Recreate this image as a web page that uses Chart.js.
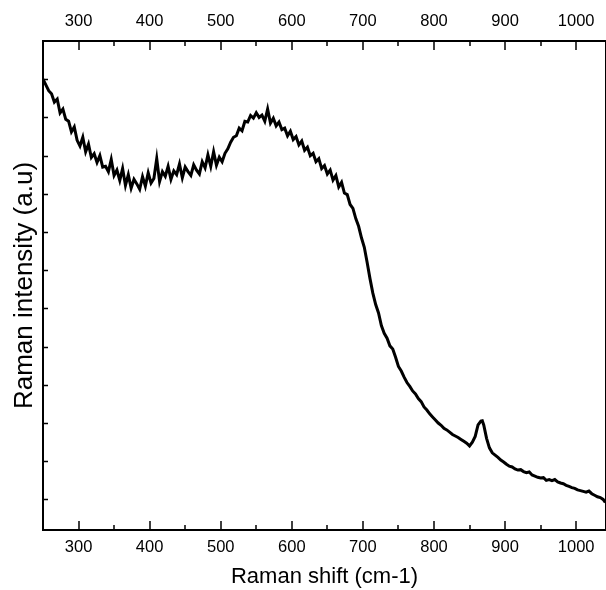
<!DOCTYPE html>
<html>
<head>
<meta charset="utf-8">
<script src="https://cdn.jsdelivr.net/npm/chart.js@4"></script>
<style>
  html, body { margin: 0; padding: 0; background: #fff; }
  #wrap { width: 606px; height: 590px; }
</style>
</head>
<body>
<div id="wrap"><canvas id="c" width="606" height="590"></canvas></div>
<script>
const ramanShift = [
  250,254,258,262,266,270,274,278,282,286,
  290,294,298,302,306,310,314,318,322,326,
  330,334,338,342,346,350,354,358,362,366,
  370,374,378,382,386,390,394,398,402,406,
  410,414,418,422,426,430,434,438,442,446,
  450,454,458,462,466,470,474,478,482,486,
  490,494,498,502,506,510,514,518,522,526,
  530,534,538,542,546,550,554,558,562,566,
  570,574,578,582,586,590,594,598,602,606,
  610,614,618,622,626,630,634,638,642,646,
  650,654,658,662,666,670,674,678,682,686,
  690,694,698,702,706,710,714,718,722,726,
  730,734,738,742,746,750,754,758,762,766,
  770,774,778,782,786,790,794,798,802,806,
  810,814,818,822,826,830,834,838,842,846,
  850,854,858,862,866,868,870,874,878,882,
  886,890,894,898,902,906,910,914,918,922,
  926,930,934,938,942,946,950,954,958,962,
  966,970,974,978,982,986,990,994,998,1002,
  1006,1010,1014,1018,1022,1026,1030,1034,1038,1041
];
const intensity = [
  1100,1085,1070,1062,1040,1048,1012,1022,995,990,
  962,975,940,925,948,910,930,895,905,882,
  900,870,872,858,890,848,862,835,866,822,
  850,815,838,826,812,845,820,855,828,840,
  892,832,858,846,872,838,860,850,878,842,
  870,858,848,876,862,852,884,868,902,872,
  910,875,896,884,906,918,935,948,952,972,
  965,990,988,1005,998,1012,1000,1006,990,1022,
  985,998,978,988,968,972,952,964,942,950,
  928,938,914,922,900,906,884,892,866,874,
  852,862,836,848,818,830,802,798,772,762,
  735,715,685,660,620,578,540,510,488,455,
  435,422,402,394,372,348,336,320,306,296,
  284,276,264,256,242,234,224,216,208,200,
  194,186,182,176,170,166,162,157,152,147,
  140,150,165,195,205,206,195,160,135,122,
  116,110,103,98,92,87,85,80,77,78,
  73,70,72,64,61,58,56,57,50,52,
  49,52,46,43,41,37,34,31,29,25,
  23,21,19,22,15,11,7,5,0,-8
];
const xMajorTicks = [300,400,500,600,700,800,900,1000];
const xMinorTicks = [250,350,450,550,650,750,850,950];
const yTicks = [0,100,200,300,400,500,600,700,800,900,1000,1100];
const xTitle = 'Raman shift (cm-1)';
const yTitle = 'Raman intensity (a.u)';

const FONT = '"Liberation Sans", Arial, Helvetica, sans-serif';
const points = ramanShift.map((x, i) => ({ x: x, y: intensity[i] }));

const innerTicks = {
  id: 'innerTicks',
  afterDraw(chart) {
    const ctx = chart.ctx;
    const a = chart.chartArea;
    const sx = chart.scales.x, sy = chart.scales.y;
    ctx.save();
    ctx.strokeStyle = '#000';
    ctx.lineWidth = 1.5;
    ctx.beginPath();
    xMajorTicks.forEach(v => {
      const p = Math.round(sx.getPixelForValue(v));
      ctx.moveTo(p, a.bottom); ctx.lineTo(p, a.bottom - 9);
      ctx.moveTo(p, a.top); ctx.lineTo(p, a.top + 9);
    });
    xMinorTicks.forEach(v => {
      const p = Math.round(sx.getPixelForValue(v));
      ctx.moveTo(p, a.bottom); ctx.lineTo(p, a.bottom - 5);
      ctx.moveTo(p, a.top); ctx.lineTo(p, a.top + 5);
    });
    yTicks.forEach(v => {
      const p = Math.round(sy.getPixelForValue(v)) + 0.5;
      ctx.moveTo(a.left, p); ctx.lineTo(a.left + 5, p);
    });
    ctx.stroke();
    ctx.restore();
  }
};

const setXTicks = s => { s.ticks = xMajorTicks.map(v => ({ value: v })); };
const setYTicks = s => { s.ticks = yTicks.map(v => ({ value: v })); };
const plainLabel = v => String(v);

new Chart(document.getElementById('c'), {
  type: 'line',
  data: {
    datasets: [{
      data: points,
      borderColor: '#000',
      borderWidth: 3,
      pointRadius: 0,
      tension: 0,
      fill: false,
      xAxisID: 'x',
      yAxisID: 'y'
    }]
  },
  options: {
    responsive: false,
    animation: false,
    events: [],
    layout: { padding: 0 },
    plugins: { legend: { display: false }, tooltip: { enabled: false } },
    scales: {
      x: {
        type: 'linear', position: 'bottom', min: 250, max: 1042,
        afterBuildTicks: setXTicks,
        afterFit: s => { s.height = 60; },
        grid: { display: false, drawTicks: false },
        border: { display: true, color: '#000', width: 2 },
        ticks: { color: '#000', font: { family: FONT, size: 16.5 }, padding: 8, maxRotation: 0, autoSkip: false, callback: plainLabel },
        title: { display: true, text: xTitle, color: '#000', font: { family: FONT, size: 22 }, padding: { top: 0, bottom: 0 } }
      },
      x2: {
        type: 'linear', position: 'top', min: 250, max: 1042,
        afterBuildTicks: setXTicks,
        afterFit: s => { s.height = 41; },
        grid: { display: false, drawTicks: false },
        border: { display: true, color: '#000', width: 2 },
        ticks: { color: '#000', font: { family: FONT, size: 16.5 }, padding: 10, maxRotation: 0, autoSkip: false, callback: plainLabel }
      },
      y: {
        type: 'linear', position: 'left', min: -80, max: 1200,
        afterBuildTicks: setYTicks,
        afterFit: s => { s.width = 43; },
        grid: { display: false, drawTicks: false },
        border: { display: true, color: '#000', width: 2 },
        ticks: { display: false },
        title: { display: true, text: yTitle, color: '#000', font: { family: FONT, size: 26 }, padding: { top: 9, bottom: 0 } }
      },
      y2: {
        type: 'linear', position: 'right', min: -80, max: 1200,
        afterFit: s => { s.width = 0; },
        grid: { display: false, drawTicks: false },
        border: { display: true, color: '#000', width: 2 },
        ticks: { display: false }
      }
    }
  },
  plugins: [innerTicks]
});
</script>
</body>
</html>
